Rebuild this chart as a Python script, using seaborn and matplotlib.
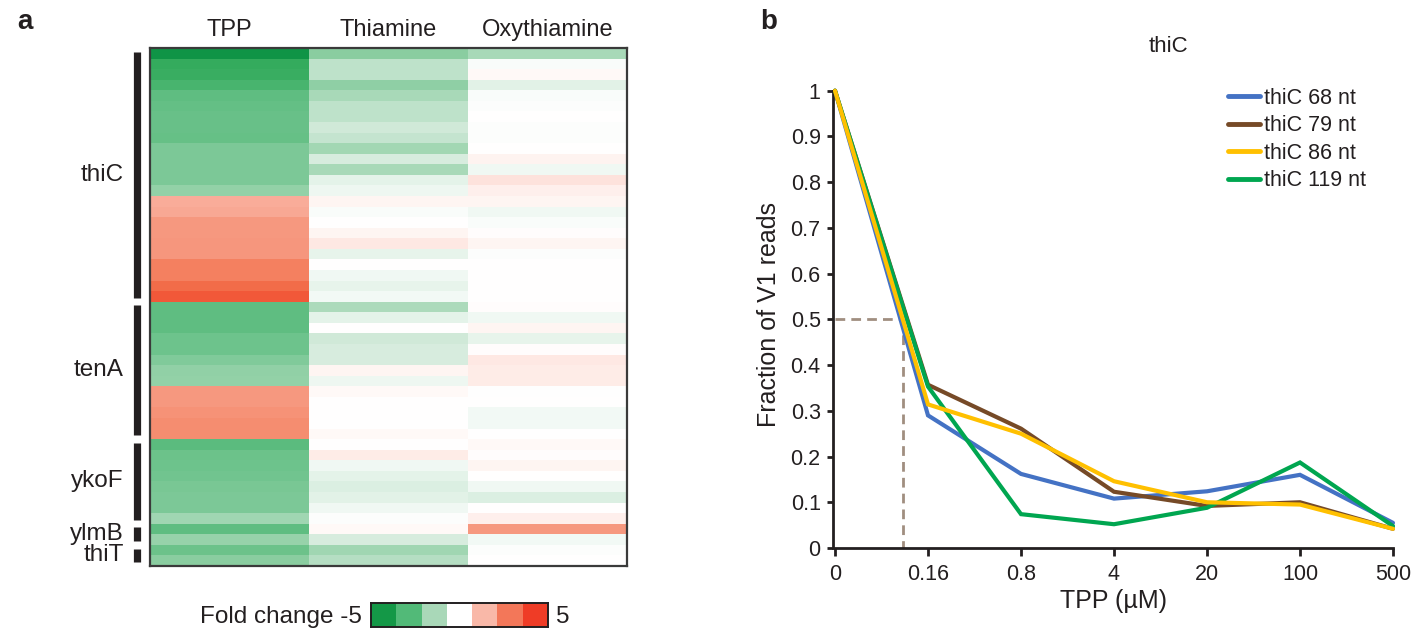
import numpy as np
import pandas as pd
import matplotlib
matplotlib.use("Agg")
import matplotlib.pyplot as plt
from matplotlib.colors import LinearSegmentedColormap, ListedColormap
import seaborn as sns

# ---------------- data: panel a ----------------
conditions = ["TPP", "Thiamine", "Oxythiamine"]
tpp = [-5.0, -4.1, -3.95, -3.6, -3.1, -3.0, -2.9, -2.9, -2.95, -2.5,
       -2.5, -2.5, -2.5, -2.0, 1.8, 1.9, 2.4, 2.4, 2.45, 2.45,
       3.2, 3.2, 3.8, 4.3, -3.1, -3.1, -3.1, -2.8, -2.8, -2.4,
       -2.05, -2.0, 2.4, 2.4, 2.6, 2.75, 2.75, -3.2, -2.85, -2.8,
       -2.7, -2.55, -2.5, -2.5, -1.75, -3.1, -1.95, -2.85, -2.2]
thiamine = [-2.2, -1.1, -1.1, -2.1, -1.6, -1.1, -1.1, -0.8, -1.0, -1.7,
            -0.7, -1.6, -0.45, -0.3, 0.2, -0.1, 0.0, 0.2, 0.5, -0.4,
            0.0, -0.25, -0.4, -0.2, -1.5, -0.45, 0.03, -0.8, -0.7, -0.7,
            0.2, -0.3, 0.15, 0.0, 0.0, 0.0, 0.15, 0.0, 0.4, -0.25,
            -0.45, -0.6, -0.5, -0.25, -0.05, 0.15, -0.7, -1.75, -1.3]
oxythiamine = [-1.6, -0.1, 0.15, -0.5, -0.08, -0.05, 0.0, -0.05, -0.05, 0.0,
               0.25, -0.25, 0.6, 0.35, 0.2, -0.25, -0.1, 0.05, 0.2, -0.05,
               0.02, 0.02, 0.0, 0.0, 0.05, -0.25, 0.2, -0.4, 0.05, 0.5,
               0.4, 0.4, -0.03, 0.0, -0.2, -0.2, 0.0, 0.12, 0.05, 0.2,
               0.0, -0.25, -0.6, 0.0, 0.35, 2.4, -0.2, -0.05, 0.0]
gene_groups = ["thiC", "tenA", "ykoF", "ylmB", "thiT"]
group_sizes = [24, 13, 8, 2, 2]
cbar_levels = [-4.3, -2.9, -1.4, 0.0, 1.4, 2.9, 4.3]

# ---------------- data: panel b ----------------
conc_labels = ["0", "0.16", "0.8", "4", "20", "100", "500"]
nt68 = [1.0, 0.29, 0.162, 0.108, 0.124, 0.16, 0.055]
nt79 = [1.0, 0.357, 0.261, 0.123, 0.092, 0.10, 0.042]
nt86 = [1.0, 0.314, 0.25, 0.146, 0.10, 0.095, 0.042]
nt119 = [1.0, 0.353, 0.074, 0.052, 0.088, 0.187, 0.048]
series_names = ["thiC 68 nt", "thiC 79 nt", "thiC 86 nt", "thiC 119 nt"]
half_value = 0.5
half_pos = 0.73

# ---------------- style ----------------
sns.set_style("white")
plt.rcParams["font.family"] = ["Liberation Sans", "DejaVu Sans"]
TXT = "#231f20"
plt.rcParams["text.color"] = TXT
plt.rcParams["axes.labelcolor"] = TXT
plt.rcParams["xtick.color"] = TXT
plt.rcParams["ytick.color"] = TXT

W, H = 1428, 637
fig = plt.figure(figsize=(W / 100, H / 100), dpi=100)


def box(x0, y0, x1, y1):
    return [x0 / W, 1 - y1 / H, (x1 - x0) / W, (y1 - y0) / H]


# ---------------- panel a: heatmap ----------------
cmap = LinearSegmentedColormap.from_list(
    "fc",
    [(0.0, "#0f9446"), (0.1, "#38ad60"), (0.2, "#64bf85"), (0.3, "#94d1a8"),
     (0.4, "#c4e4cf"), (0.5, "#ffffff"), (0.6, "#fcd0c5"), (0.7, "#f8a48f"),
     (0.8, "#f48667"), (0.9, "#f26743"), (1.0, "#ee3a24")])

df = pd.DataFrame({"TPP": tpp, "Thiamine": thiamine, "Oxythiamine": oxythiamine})
axh = fig.add_axes(box(150, 48, 627, 566))
sns.heatmap(df[conditions], ax=axh, cmap=cmap, vmin=-5, vmax=5, cbar=False,
            xticklabels=conditions, yticklabels=False)
axh.xaxis.tick_top()
axh.tick_params(axis="x", length=0, pad=5, labelsize=17)
axh.set_xlabel("")
axh.set_ylabel("")
for s in axh.spines.values():
    s.set_visible(True)
    s.set_color("#3a3a3a")
    s.set_linewidth(1.6)

start = 0
for name, n in zip(gene_groups, group_sizes):
    y0, y1 = start + 0.35, start + n - 0.35
    axh.plot([-0.08, -0.08], [y0, y1], color=TXT, lw=5.2,
             solid_capstyle="butt", clip_on=False)
    axh.text(-0.165, start + n / 2, name, ha="right", va="center",
             fontsize=17.5, color=TXT)
    start += n

fig.text(17 / W, 1 - 22 / H, "a", fontsize=20, fontweight="bold",
         ha="left", va="center")

# colour key
axc = fig.add_axes(box(371, 603, 548, 627))
sns.heatmap([cbar_levels], ax=axc, cmap=ListedColormap(
    ["#149847", "#52ba78", "#a9d8b8", "#ffffff", "#f9b8a8", "#f37759", "#ef3c26"]),
    vmin=-5, vmax=5, cbar=False, xticklabels=False, yticklabels=False)
for s in axc.spines.values():
    s.set_visible(True)
    s.set_color(TXT)
    s.set_linewidth(1.4)
fig.text(362 / W, 1 - 617 / H, "Fold change -5", fontsize=17.5, ha="right",
         va="center")
fig.text(556 / W, 1 - 617 / H, "5", fontsize=17.5, ha="left", va="center")

# ---------------- panel b: line plot ----------------
long = []
for name, vals in zip(series_names, [nt68, nt79, nt86, nt119]):
    for i, v in enumerate(vals):
        long.append({"pos": i, "frac": v, "series": name})
ldf = pd.DataFrame(long)

palette = {"thiC 68 nt": "#4472c4", "thiC 79 nt": "#764a27",
           "thiC 86 nt": "#ffc000", "thiC 119 nt": "#00a650"}

ymax = 1.02
y0px, y1px = 548, 90.7
top_px = y0px - (y0px - y1px) * ymax
axl = fig.add_axes(box(835 - 558 * 0.02 / 6, top_px, 1393 + 558 * 0.02 / 6, y0px))
sns.lineplot(data=ldf, x="pos", y="frac", hue="series", hue_order=series_names,
             palette=palette, ax=axl, linewidth=3, legend=True)
for ln in axl.lines:
    ln.set_solid_joinstyle("miter")
axl.lines[2].set_zorder(5)
axl.lines[3].set_zorder(4)

axl.plot([0, half_pos], [half_value, half_value], color="#a08e80", lw=2,
         dashes=(3.5, 2.2), zorder=1)
axl.plot([half_pos, half_pos], [half_value, 0], color="#a08e80", lw=2,
         dashes=(3.5, 2.2), zorder=1)

axl.set_xlim(-0.02, 6.02)
axl.set_ylim(0, ymax)
axl.set_xticks(range(len(conc_labels)))
axl.set_xticklabels(conc_labels)
axl.set_yticks([0, 0.1, 0.2, 0.3, 0.4, 0.5, 0.6, 0.7, 0.8, 0.9, 1.0])
axl.set_yticklabels(["0", "0.1", "0.2", "0.3", "0.4", "0.5", "0.6", "0.7",
                     "0.8", "0.9", "1"])
sns.despine(ax=axl)
axl.spines["left"].set_bounds(0, 1)
axl.spines["bottom"].set_bounds(0, 6)
for s in ("left", "bottom"):
    axl.spines[s].set_linewidth(2)
    axl.spines[s].set_color(TXT)
axl.tick_params(axis="y", which="major", direction="out", length=4.5,
                width=2, labelsize=15.5, pad=4.5, left=True)
axl.tick_params(axis="x", which="major", direction="out", length=5.5,
                width=2, labelsize=15.5, pad=6, bottom=True)
axl.set_xlabel("TPP (µM)", fontsize=18, labelpad=3)
axl.set_ylabel("Fraction of V1 reads", fontsize=18, labelpad=7)

leg = axl.legend(loc="upper left", bbox_to_anchor=(1228 / W, 1 - 88 / H),
                 bbox_transform=fig.transFigure, frameon=False, fontsize=15.5,
                 handlelength=1.5, handletextpad=0.15, labelspacing=0.3,
                 borderaxespad=0, borderpad=0)
for h in leg.get_lines():
    h.set_linewidth(3.5)

fig.text(1168 / W, 1 - 47 / H, "thiC", fontsize=16, ha="center", va="center")
fig.text(760 / W, 1 - 22 / H, "b", fontsize=20, fontweight="bold",
         ha="left", va="center")

fig.savefig("out.png", dpi=100)
